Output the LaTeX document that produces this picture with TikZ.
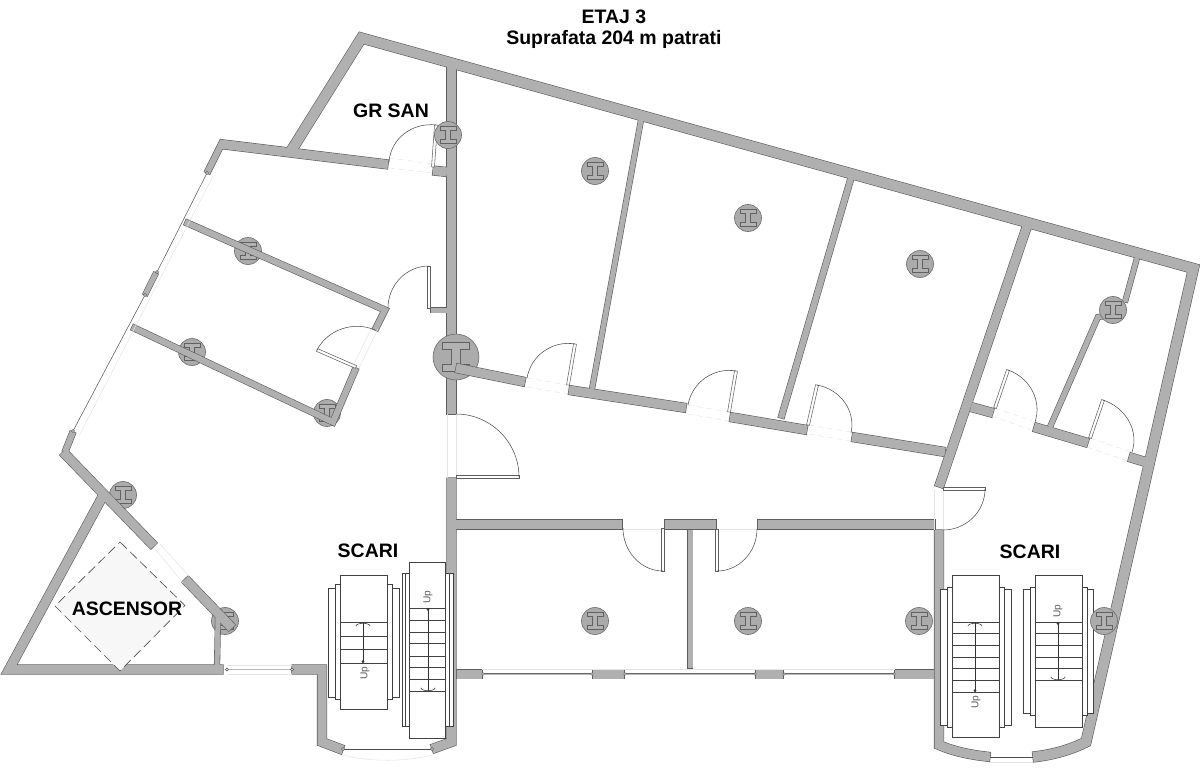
\documentclass[tikz,border=0pt]{standalone}
\usepackage{fontspec}
\setmainfont{Liberation Sans}
\usetikzlibrary{calc,arrows.meta}

\definecolor{wallgray}{HTML}{B0B0B0}
\definecolor{walledge}{HTML}{5E5E5E}
\definecolor{liftgray}{HTML}{F7F7F7}

\tikzset{
  every picture/.style={line width=0.75pt},
  wall edge/.style={draw=walledge,line width=#1*0.75pt+0.9pt,line join=miter,shorten >=-0.45pt,shorten <=-0.45pt},
  wall fill/.style={draw=wallgray,line width=#1*0.75pt,line join=miter},
  door leaf/.style={draw=walledge,fill=white,line width=0.4pt},
  door swing/.style={draw=black!70,line width=0.4pt},
  threshold/.style={draw=black!10,line width=0.35pt,dash pattern=on 4pt off 3pt},
  window line/.style={draw=black!60,line width=0.3pt,double=black!28,double distance=0.7pt},
  faint line/.style={draw=black!10,line width=0.4pt},
  jamb pin/.style={draw=black!70,fill=white,line width=0.3pt},
  stair box/.style={draw=black!75,fill=white,line width=0.45pt},
  stair step/.style={draw=black!75,line width=0.4pt},
  stair arrow/.style={draw=black!80,line width=0.4pt,{Circle[length=2pt]}-{Arc Barb[width=11pt,length=2.4pt]}},
  room label/.style={inner sep=0pt,font=\bfseries\fontsize{14.6}{17}\selectfont,text=black},
  up label/.style={inner sep=0pt,text=black!65,font=\fontsize{7.6}{9}\selectfont,rotate=90},
  beam/.pic={
    \draw[draw=black!55,fill=black!33,line width=0.5pt] (0,0) circle (13.5);
    \draw[draw=black!62,fill=black!30,line width=0.6pt] (-8,-8.5) -- (8,-8.5) -- (8,-4.5) -- (2.5,-4.5) -- (2.5,4.5) -- (8,4.5) -- (8,8.5) -- (-8,8.5) -- (-8,4.5) -- (-2.5,4.5) -- (-2.5,-4.5) -- (-8,-4.5) -- cycle;
  }
}

% door: hinge, leaf tip, end of the swing
\newcommand{\doorat}[3]{
  \draw[door leaf] ($(#1)!1.1pt!90:(#2)$) -- ($(#2)!1.1pt!-90:(#1)$) -- ($(#2)!1.1pt!90:(#1)$) -- ($(#1)!1.1pt!-90:(#2)$) -- cycle;
  \draw[door swing] (#2) .. controls ($(#2)+0.55*(#3)-0.55*(#1)$) and ($(#3)+0.55*(#2)-0.55*(#1)$) .. (#3);
}
\newcommand{\wallpiece}[2]{\draw[wall pass=#1] #2;}
\newcommand{\wallset}{
  %Outer wall
  \wallpiece{10}{(291,151) -- (361.5,38) -- (1193.5,268.5) -- (1086,742) .. controls (1070,750) and (1052,755) .. (1033,757)}
  \wallpiece{9}{(939,530) -- (939,745) .. controls (955,752) and (972,755) .. (990,757)}
  \wallpiece{9}{(104.5,493) -- (9,669.5) -- (223,669.5)}
  \wallpiece{6}{(73,432) -- (65,452)}
  \wallpiece{9}{(63,452) -- (154,546)}
  \wallpiece{9}{(185,579) -- (232,628)}
  \wallpiece{5}{(218,618) -- (217,667)}
  \wallpiece{9}{(292,669.5) -- (322,669.5) -- (322,742) -- (343,750)}
  \wallpiece{9}{(432,749) -- (451.5,742) -- (451.5,478)}
  %Inner walls
  \wallpiece{9}{(451.5,60) -- (451.5,414)}
  \wallpiece{9}{(456,524.5) -- (622,524.5)}
  \wallpiece{9}{(665,524.5) -- (716,524.5)}
  \wallpiece{9}{(758,524.5) -- (935,524.5)}
  \wallpiece{5}{(690,530) -- (690,668)}
  \wallpiece{9}{(220,144) -- (388,164.5)}
  \wallpiece{6}{(223,141) -- (207,173)}
  \wallpiece{9}{(433,170.5) -- (447,172)}
  \wallpiece{5}{(431,310) -- (447,310)}
  \wallpiece{6}{(185,222) -- (385,310) -- (375,330)}
  \wallpiece{6}{(132,327) -- (333,422) -- (356,368)}
  \wallpiece{5}{(156,273) -- (145,295)}
  \wallpiece{9}{(569,390) -- (686,408)}
  \wallpiece{9}{(730,417) -- (807,430)}
  \wallpiece{9}{(852,437) -- (945,452)}
  \wallpiece{5}{(641,120) -- (592,389)}
  \wallpiece{6}{(851,178) -- (781,418)}
  \wallpiece{9}{(1027,226) -- (939,487)}
  \wallpiece{9}{(971,407) -- (993,413)}
  \wallpiece{9}{(1034,427) -- (1088,443)}
  \wallpiece{9}{(1129,457) -- (1149,463)}
  \wallpiece{5}{(1050,427) -- (1098,317) -- (1113,315)}
  \wallpiece{5}{(1137,258) -- (1125,302)}
  \wallpiece{9}{(457,674) -- (482,674)}
  \wallpiece{9}{(593,674) -- (624,674)}
  \wallpiece{9}{(756,674) -- (783,674)}
  \wallpiece{9}{(895,674) -- (934,674)}
}

\begin{document}
\begin{tikzpicture}[x=0.75pt,y=0.75pt,yscale=-1,xscale=1]
  \useasboundingbox (0,0) rectangle (1200,768);

  %Shape: Beams under the walls
  \pic at (248,251) {beam};
  \pic at (192,352) {beam};
  \pic at (327,413) {beam};
  \pic at (123,495) {beam};
  \pic at (225,621) {beam};

  %Shape: Walls, edges first
  \tikzset{wall pass/.style={wall edge=#1}}
  \wallset
  \tikzset{wall pass/.style={wall fill=#1}}
  \wallset

  %Straight Lines: faint door and window sills
  \draw[threshold] (389,158) -- (433,164);
  \draw[threshold] (389,168) -- (433,173);
  \draw[threshold] (527,378) -- (568,385);
  \draw[threshold] (527,387) -- (568,394);
  \draw[threshold] (688,405) -- (729,412);
  \draw[threshold] (688,414) -- (729,421);
  \draw[threshold] (809,425) -- (851,432);
  \draw[threshold] (809,434) -- (851,441);
  \draw[threshold] (995,408) -- (1033,421);
  \draw[threshold] (992,416) -- (1031,430);
  \draw[threshold] (1090,438) -- (1131,452);
  \draw[threshold] (1087,447) -- (1128,461);
  \draw[faint line] (378,329) -- (359,368);
  \draw[faint line] (372,327) -- (353,366);
  \draw[faint line] (447,414) -- (447,478);
  \draw[faint line] (456,414) -- (456,478);
  \draw[faint line] (624,529) -- (663,529);
  \draw[faint line] (718,529) -- (757,529);
  \draw[faint line] (934,490) -- (934,530);
  \draw[faint line] (943,490) -- (943,530);
  \draw[faint line] (213,176) -- (79,436);
  \draw[faint line] (156,550) -- (183,583);
  \draw[faint line] (160,544) -- (189,576);
  \draw[faint line] (228,665) -- (292,665);
  \draw[faint line] (228,674) -- (292,674);
  \draw[faint line] (482,669) -- (895,669);
  \draw[faint line] (343,755) .. controls (370,762) and (405,762) .. (432,755);
  \draw[faint line] (990,762) -- (1033,762);

  %Straight Lines: windows
  \draw[door swing,draw=black!65] (207,173) -- (157,272);
  \draw[door swing,draw=black!65] (145,295) -- (73,431);
  \draw[window line] (228,669.5) -- (292,669.5);
  \draw[door swing] (343,749) -- (432,749);
  \draw[door swing] (990,757) -- (1033,757);
  \draw[window line] (483,674) -- (592,674);
  \draw[window line] (625,674) -- (755,674);
  \draw[window line] (784,674) -- (894,674);

  %Shape: Jamb pins
  \draw[jamb pin] (227,669.5) circle (1.5);
  \draw[jamb pin] (292,669.5) circle (1.5);
  \draw[jamb pin] (343,749) circle (1.5);
  \draw[jamb pin] (432,749) circle (1.5);
  \draw[jamb pin] (483,674) circle (1.3);
  \draw[jamb pin] (592,674) circle (1.3);
  \draw[jamb pin] (625,674) circle (1.3);
  \draw[jamb pin] (755,674) circle (1.3);
  \draw[jamb pin] (784,674) circle (1.3);
  \draw[jamb pin] (894,674) circle (1.3);
  \draw[jamb pin] (207,173) circle (1.5);
  \draw[jamb pin] (157,272) circle (1.5);
  \draw[jamb pin] (145,295) circle (1.5);
  \draw[jamb pin] (73,431) circle (1.5);

  %Shape: Doors
  \doorat{433,167}{436,125}{389,162}
  \doorat{429,308}{429,266}{388,308}
  \doorat{356,367}{317,350}{375,330}
  \doorat{456,477}{519,477}{456,414}
  \doorat{568,385}{575,344}{527,378}
  \doorat{729,412}{736,371}{688,405}
  \doorat{808,425}{817,385}{851,433}
  \doorat{995,408}{1008,370}{1035,422}
  \doorat{1090,438}{1103,400}{1132,452}
  \doorat{943,489}{985,489}{943,530}
  \doorat{663,528}{663,571}{623,528}
  \doorat{717,529}{717,571}{757,529}

  %Shape: Stairs left
  \draw[stair box] (328,588) rectangle (335,697);
  \draw[stair box] (335,584) rectangle (340,699);
  \draw[stair box] (392,588) rectangle (399,697);
  \draw[stair box] (387,584) rectangle (392,699);
  \draw[stair box] (340,575) rectangle (387,709);
  \draw[stair step] (340,622) -- (387,622);
  \draw[stair step] (340,636) -- (387,636);
  \draw[stair step] (340,649) -- (387,649);
  \draw[stair step] (340,663) -- (387,663);
  \draw[stair arrow] (363,663) -- (363,623);
  \node[up label] (upa) at (365,673) {Up};

  \draw[stair box] (402,573) rectangle (405,726);
  \draw[stair box] (405,573) rectangle (409,726);
  \draw[stair box] (445,573) rectangle (449,726);
  \draw[stair box] (449,573) rectangle (453,726);
  \draw[stair box] (409,562) rectangle (445,738);
  \draw[stair step] (409,608) -- (445,608);
  \draw[stair step] (409,620) -- (445,620);
  \draw[stair step] (409,632) -- (445,632);
  \draw[stair step] (409,643) -- (445,643);
  \draw[stair step] (409,656) -- (445,656);
  \draw[stair step] (409,667) -- (445,667);
  \draw[stair step] (409,679) -- (445,679);
  \draw[stair step] (409,691) -- (445,691);
  \draw[stair arrow] (428,608) -- (428,691);
  \node[up label] (upb) at (428,597) {Up};

  %Shape: Stairs right
  \draw[stair box] (940,589) rectangle (947,725);
  \draw[stair box] (947,587) rectangle (952,727);
  \draw[stair box] (1004,589) rectangle (1011,725);
  \draw[stair box] (999,587) rectangle (1004,727);
  \draw[stair box] (952,575) rectangle (999,737);
  \draw[stair step] (952,622) -- (999,622);
  \draw[stair step] (952,633) -- (999,633);
  \draw[stair step] (952,645) -- (999,645);
  \draw[stair step] (952,657) -- (999,657);
  \draw[stair step] (952,668) -- (999,668);
  \draw[stair step] (952,680) -- (999,680);
  \draw[stair step] (952,692) -- (999,692);
  \draw[stair arrow] (975,692) -- (975,623);
  \node[up label] (upc) at (976,702) {Up};

  \draw[stair box] (1023,589) rectangle (1030,713);
  \draw[stair box] (1030,587) rectangle (1035,715);
  \draw[stair box] (1087,589) rectangle (1093,713);
  \draw[stair box] (1082,587) rectangle (1087,715);
  \draw[stair box] (1035,575) rectangle (1082,727);
  \draw[stair step] (1035,622) -- (1082,622);
  \draw[stair step] (1035,633) -- (1082,633);
  \draw[stair step] (1035,645) -- (1082,645);
  \draw[stair step] (1035,657) -- (1082,657);
  \draw[stair step] (1035,668) -- (1082,668);
  \draw[stair step] (1035,680) -- (1082,680);
  \draw[stair arrow] (1058,622) -- (1058,680);
  \node[up label] (upd) at (1058,611) {Up};

  %Shape: Beams over the walls
  \pic at (448,135) {beam};
  \pic at (595,171) {beam};
  \pic at (748,218) {beam};
  \pic at (920,264) {beam};
  \pic at (1113,310) {beam};
  \pic at (595,621) {beam};
  \pic at (748,621) {beam};
  \pic at (919,621) {beam};
  \pic at (1104,621) {beam};
  \pic[scale=1.7] at (456,357) {beam};
  \tikzset{wall pass/.style={wall edge=#1}}
  \wallpiece{9}{(456,368) -- (525,382)}
  \tikzset{wall pass/.style={wall fill=#1}}
  \wallpiece{9}{(456,368) -- (525,382)}

  %Shape: Lift shaft
  \draw[draw=black!70,fill=liftgray,line width=0.5pt,dash pattern=on 7pt off 3.5pt] (120,542) -- (185,605.5) -- (120,671) -- (55,606) -- cycle;

  % Text Node
  \node[room label] (title) at (614,17) {ETAJ 3};
  % Text Node
  \node[room label] (area) at (614,39) {Suprafata 204 m patrati};
  % Text Node
  \node[room label] (grsan) at (391,111) {GR SAN};
  % Text Node
  \node[room label] (ascensor) at (127,609) {ASCENSOR};
  % Text Node
  \node[room label] (scarileft) at (368,551) {SCARI};
  % Text Node
  \node[room label] (scariright) at (1030,552) {SCARI};
\end{tikzpicture}
\end{document}
